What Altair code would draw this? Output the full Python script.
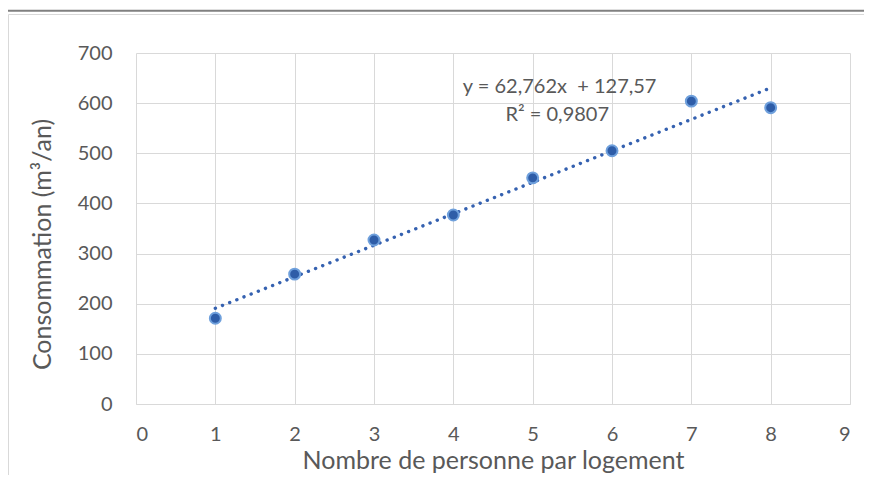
import altair as alt
import pandas as pd

# Data
personnes = [1, 2, 3, 4, 5, 6, 7, 8]
consommation = [171, 259, 327, 377, 451, 505, 604, 591]

x_ticks = [0, 1, 2, 3, 4, 5, 6, 7, 8, 9]
y_ticks = [0, 100, 200, 300, 400, 500, 600, 700]

eq_labels = ["y = 62,762x\u00a0 + 127,57", "R² = 0,9807"]
eq_x = [5.34, 5.31]
eq_y = [632, 576]

FONT = "Lato"
GREY = "#595959"

df = pd.DataFrame({"x": personnes, "y": consommation})
ann = pd.DataFrame({"x": eq_x, "y": eq_y, "label": eq_labels})
one = pd.DataFrame({"d": [0]})

xscale = alt.Scale(domain=[0, 9], nice=False)
yscale = alt.Scale(domain=[0, 700], nice=False)

xaxis = alt.Axis(
    values=x_ticks, format="d", title="Nombre de personne par logement", grid=True,
    gridColor="#d9d9d9", domainColor="#d9d9d9", ticks=False,
    labelFontSize=20, labelColor=GREY, labelFont=FONT, labelPadding=20,
    titleFontSize=25, titleColor=GREY, titleFont=FONT, titleFontWeight="normal",
    titlePadding=4,
)
yaxis = alt.Axis(
    values=y_ticks, format="d", title="Consommation (m³/an)", grid=True,
    gridColor="#d9d9d9", domain=False, ticks=False,
    labelFontSize=20, labelColor=GREY, labelFont=FONT, labelPadding=24,
    titleFontSize=25, titleColor=GREY, titleFont=FONT, titleFontWeight="normal",
    titlePadding=22, titleY=191,
)

base = alt.Chart(df)

points = base.mark_circle(
    size=120, fill="#2E5DA8", stroke="#6FA0DC", strokeWidth=2, opacity=1
).encode(
    x=alt.X("x:Q", scale=xscale, axis=xaxis),
    y=alt.Y("y:Q", scale=yscale, axis=yaxis),
)

trend = base.transform_regression("x", "y").mark_line(
    color="#3561B0", strokeWidth=3.4, strokeDash=[0.1, 7.6], strokeCap="round"
).encode(
    x=alt.X("x:Q", scale=xscale),
    y=alt.Y("y:Q", scale=yscale),
)

text = alt.Chart(ann).mark_text(
    font=FONT, fontSize=20, color=GREY, align="center", baseline="middle"
).encode(
    x=alt.X("x:Q", scale=xscale),
    y=alt.Y("y:Q", scale=yscale),
    text="label:N",
)

# Decorative outer frame (Excel chart area border)
dark_line = alt.Chart(one).mark_rule(color="#808080", strokeWidth=2).encode(
    x=alt.value(-128), x2=alt.value(728), y=alt.value(-42.3)
)
frame_top = alt.Chart(one).mark_rule(color="#d9d9d9", strokeWidth=1).encode(
    x=alt.value(-127.5), x2=alt.value(728), y=alt.value(-38.5)
)
frame_left = alt.Chart(one).mark_rule(color="#d9d9d9", strokeWidth=1).encode(
    x=alt.value(-127.5), y=alt.value(-38.5), y2=alt.value(422)
)

chart = alt.layer(dark_line, frame_top, frame_left, trend, points, text).properties(
    width=714,
    height=351,
    autosize=alt.AutoSizeParams(type="none"),
    padding={"left": 128, "top": 45, "right": 14, "bottom": 71},
    background="white",
).configure_view(stroke="transparent")

chart.save("out.html", embed_options={"renderer": "svg", "actions": False})
